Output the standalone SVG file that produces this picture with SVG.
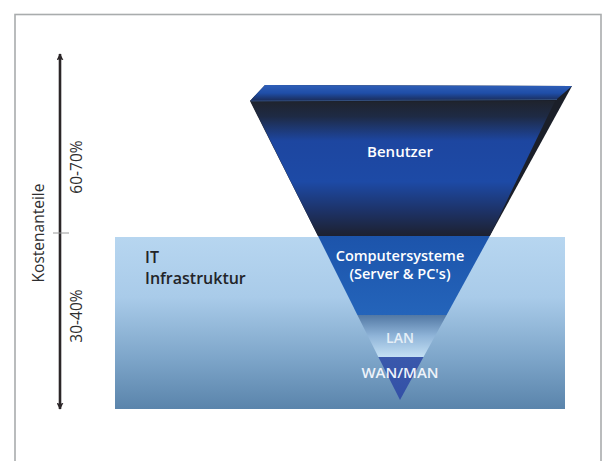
<svg xmlns="http://www.w3.org/2000/svg" width="605" height="461" viewBox="0 0 605 461">
  <style>
    .lbl { font-family: "Open Sans", "Noto Sans", sans-serif; fill: #ffffff; text-anchor: middle; font-weight: 600; }
    .axis { font-family: "Open Sans", "Noto Sans", sans-serif; fill: #2e2e30; font-size: 15.5px; text-anchor: middle; }
    .it { font-family: "Open Sans", "Noto Sans", sans-serif; fill: #222428; font-size: 16px; font-weight: 600; }
  </style>
  <defs>
    <linearGradient id="bgGrad" x1="0" y1="0" x2="0" y2="1">
      <stop offset="0" stop-color="#b7d6f0"/>
      <stop offset="0.35" stop-color="#a9cbe9"/>
      <stop offset="0.7" stop-color="#7ea6ca"/>
      <stop offset="1" stop-color="#5a84ab"/>
    </linearGradient>
    <linearGradient id="benGrad" x1="0" y1="100" x2="0" y2="236" gradientUnits="userSpaceOnUse">
      <stop offset="0" stop-color="#1f232c"/>
      <stop offset="0.12" stop-color="#1e2a44"/>
      <stop offset="0.3" stop-color="#1d46a0"/>
      <stop offset="0.6" stop-color="#1d4aa6"/>
      <stop offset="0.82" stop-color="#1d3266"/>
      <stop offset="1" stop-color="#1d2130"/>
    </linearGradient>
    <linearGradient id="topGrad" x1="0" y1="85" x2="0" y2="101" gradientUnits="userSpaceOnUse">
      <stop offset="0" stop-color="#2f5fb8"/>
      <stop offset="0.5" stop-color="#1f4ea8"/>
      <stop offset="1" stop-color="#1a2a55"/>
    </linearGradient>
    <linearGradient id="compGrad" x1="0" y1="236" x2="0" y2="315" gradientUnits="userSpaceOnUse">
      <stop offset="0" stop-color="#1c54ab"/>
      <stop offset="1" stop-color="#2464ba"/>
    </linearGradient>
    <linearGradient id="lanGrad" x1="0" y1="315" x2="0" y2="357" gradientUnits="userSpaceOnUse">
      <stop offset="0" stop-color="#5278a4"/>
      <stop offset="0.5" stop-color="#8fb4d8"/>
      <stop offset="1" stop-color="#c4e0f4"/>
    </linearGradient>
    <linearGradient id="wanGrad" x1="0" y1="357" x2="0" y2="400" gradientUnits="userSpaceOnUse">
      <stop offset="0" stop-color="#3a58ac"/>
      <stop offset="1" stop-color="#3350a6"/>
    </linearGradient>
    <marker id="ah" viewBox="0 0 10 10" refX="9" refY="5" markerWidth="7" markerHeight="7" markerUnits="userSpaceOnUse" orient="auto-start-reverse">
      <path d="M0,0 L10,5 L0,10 L2,5 Z" fill="#2b2628"/>
    </marker>
  </defs>

  <rect x="0" y="0" width="605" height="461" fill="#ffffff"/>
  <!-- frame -->
  <rect id="frame" x="15" y="14.5" width="586" height="460" fill="none" stroke="#a9acad" stroke-width="1.6"/>

  <!-- IT Infrastruktur band -->
  <g id="infrastruktur">
    <rect x="115" y="237" width="450" height="172" fill="url(#bgGrad)"/>
    <text class="it" x="145" y="263">IT</text>
    <text class="it" x="145" y="284">Infrastruktur</text>
  </g>

  <!-- pyramid -->
  <g id="pyramid-body">
    <polygon points="265,85 572,86 489.8,236 318,236 250,101" fill="#1b1f29"/>
    <polygon points="265,85 572,86 557,99 250,101" fill="url(#topGrad)"/>
    <line x1="251" y1="101" x2="557" y2="99.5" stroke="#3a5a90" stroke-width="0.8"/>
  </g>
  <g id="benutzer">
    <polygon points="251,102 555,101 489.8,236 318,236" fill="url(#benGrad)"/>
    <text class="lbl" x="400" y="157" font-size="15">Benutzer</text>
  </g>
  <g id="computersysteme">
    <polygon points="318,236 489.8,236 446.6,315 357.4,315" fill="url(#compGrad)"/>
    <text class="lbl" x="400" y="261" font-size="14.5">Computersysteme</text>
    <text class="lbl" x="400" y="279" font-size="14.5">(Server &amp; PC's)</text>
  </g>
  <g id="lan">
    <polygon points="357.4,315 446.6,315 423.5,357 378.4,357" fill="url(#lanGrad)"/>
    <text class="lbl" x="400" y="343" font-size="14" style="fill:#e6eff7">LAN</text>
  </g>
  <g id="wan-man">
    <polygon points="378.4,357 423.5,357 400,400" fill="url(#wanGrad)"/>
    <text class="lbl" x="400" y="378" font-size="15" style="fill:#eef3fa">WAN/MAN</text>
  </g>

  <!-- axis labels -->
  <g id="axis-labels">
    <text class="axis" transform="translate(44,233) rotate(-90)" font-size="16.5">Kostenanteile</text>
    <text class="axis" transform="translate(82,167) rotate(-90)">60-70%</text>
    <text class="axis" transform="translate(82,316) rotate(-90)">30-40%</text>
  </g>

  <!-- connectors -->
  <g id="connectors">
    <line x1="60" y1="232" x2="60" y2="54" stroke="#2b2628" stroke-width="2.6" marker-end="url(#ah)"/>
    <line x1="60" y1="232" x2="60" y2="409" stroke="#2b2628" stroke-width="2.6" marker-end="url(#ah)"/>
    <line x1="53" y1="233" x2="69" y2="233" stroke="#9a9a9a" stroke-width="1"/>
  </g>
</svg>
